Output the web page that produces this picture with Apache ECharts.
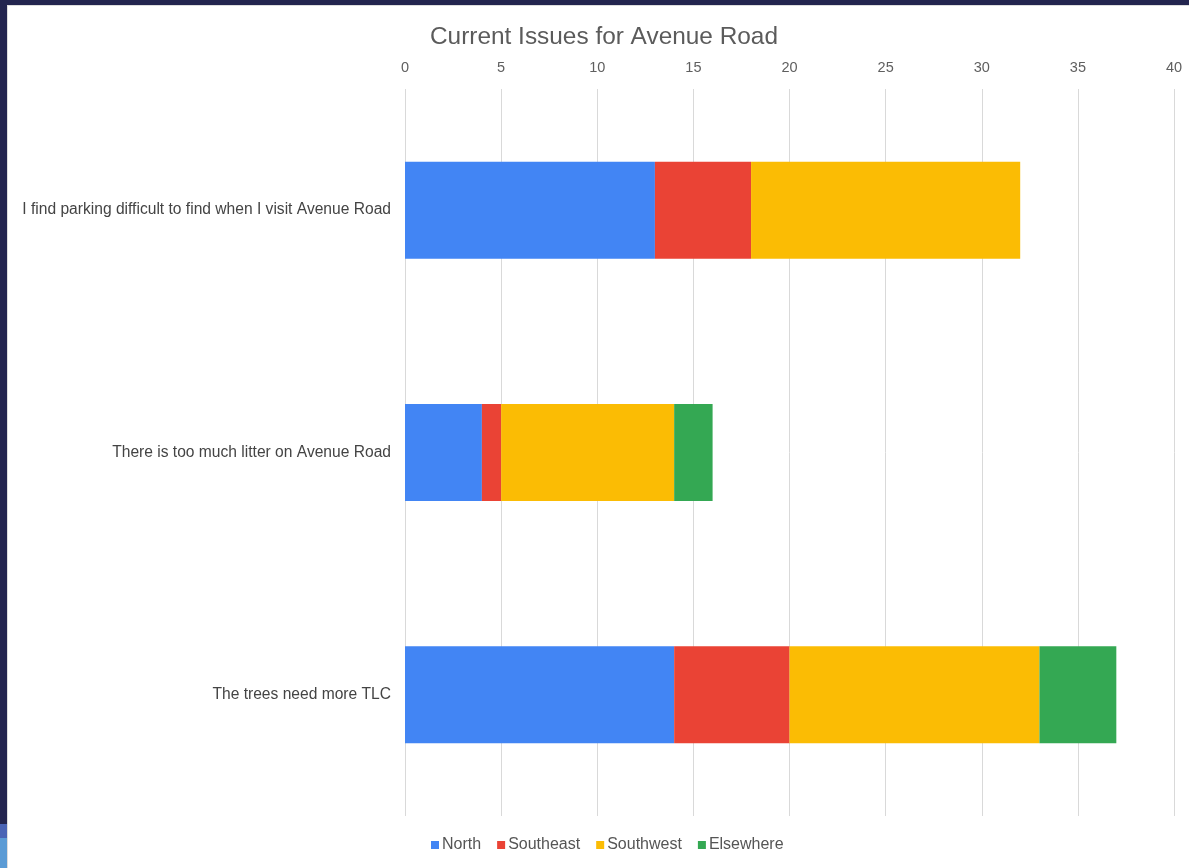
<!DOCTYPE html>
<html>
<head>
<meta charset="utf-8">
<script src="https://cdn.jsdelivr.net/npm/echarts@6/dist/echarts.min.js"></script>
<style>
  html, body { margin: 0; padding: 0; background: #23254f; overflow: hidden; }
  #main { position: absolute; left: 7px; top: 5px; width: 1182px; height: 863px; background: #fff; border-left: 1px solid #ddd; border-top: 1px solid #ddd; }
  .strip1 { position: absolute; left: 0; top: 824px; width: 7px; height: 14px; background: #4a64b5; }
  .strip2 { position: absolute; left: 0; top: 838px; width: 7px; height: 30px; background: #5b9bd5; }
</style>
</head>
<body>
<div id="main"></div>
<div class="strip1"></div>
<div class="strip2"></div>
<script>
// 数据
var categories = [
  'I find parking difficult to find when I visit Avenue Road',
  'There is too much litter on Avenue Road',
  'The trees need more TLC'
];
var north = [13, 4, 14];
var southeast = [5, 1, 6];
var southwest = [14, 9, 13];
var elsewhere = [0, 2, 4];
var seriesNames = ['North', 'Southeast', 'Southwest', 'Elsewhere'];
var colors = ['#4285f4', '#ea4335', '#fbbc04', '#34a853'];

var myChart = echarts.init(document.getElementById('main'));

function barSeries(name, data) {
  return {
    name: name,
    type: 'bar',
    stack: 'total',
    barWidth: '40%',
    data: data
  };
}

myChart.setOption({
  color: colors,
  textStyle: { fontFamily: 'Liberation Sans, Arial, sans-serif' },
  title: {
    text: 'Current Issues for Avenue Road',
    left: 417,
    top: 14,
    textStyle: { fontSize: 24.4, fontWeight: 'normal', color: '#5b5b5b' }
  },
  legend: {
    data: seriesNames,
    bottom: 11,
    left: 418,
    icon: 'rect',
    itemWidth: 8,
    itemHeight: 8,
    itemGap: 16,
    textStyle: { fontSize: 16, color: '#555', padding: [0, 0, 0, -2] }
  },
  grid: { left: 397, right: 16, top: 83, bottom: 53 },
  xAxis: {
    type: 'value',
    position: 'top',
    min: 0,
    max: 40,
    interval: 5,
    axisLine: { show: false },
    axisTick: { show: false },
    axisLabel: { fontSize: 14.5, color: '#5f5f5f', margin: 14 },
    splitLine: { lineStyle: { color: '#d9d9d9', width: 1 } }
  },
  yAxis: {
    type: 'category',
    inverse: true,
    data: categories,
    axisLine: { show: false },
    axisTick: { show: false },
    axisLabel: { fontSize: 15.6, color: '#444', margin: 14 }
  },
  series: [
    barSeries('North', north),
    barSeries('Southeast', southeast),
    barSeries('Southwest', southwest),
    barSeries('Elsewhere', elsewhere)
  ]
});
</script>
</body>
</html>
